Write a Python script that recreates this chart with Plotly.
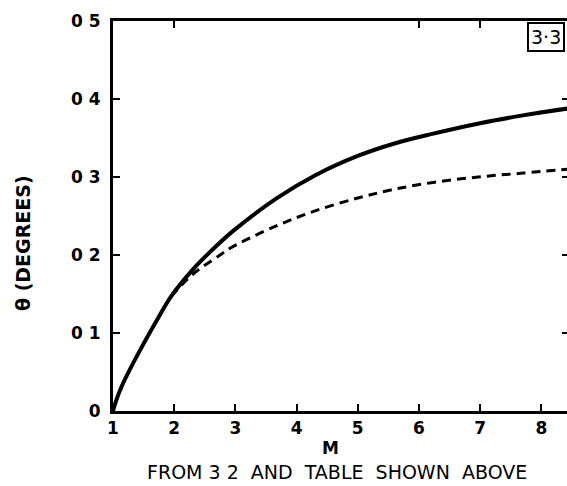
import plotly.graph_objects as go

# Theta vs M, two curves
m_solid = [1.0, 1.05, 1.15, 1.3, 1.45, 1.7, 1.95, 2.3, 2.6, 2.95, 3.66, 4.3, 5.0, 5.6, 6.2, 7.0, 7.7, 8.45]
theta_solid = [0.0, 0.013, 0.033, 0.057, 0.079, 0.114, 0.147, 0.181, 0.205, 0.230, 0.272, 0.302, 0.327, 0.343, 0.355, 0.369, 0.379, 0.388]

m_dashed = [1.95, 2.3, 2.75, 2.92, 3.63, 4.28, 5.0, 5.58, 6.23, 6.97, 7.7, 8.45]
theta_dashed = [0.147, 0.175, 0.200, 0.209, 0.236, 0.256, 0.273, 0.284, 0.293, 0.300, 0.305, 0.310]

x_ticks = [1, 2, 3, 4, 5, 6, 7, 8]
x_ticktext = ["1", "2", "3", "4", "5", "6", "7", "8"]
y_ticks = [0, 0.1, 0.2, 0.3, 0.4, 0.5]
y_ticktext = ["0", "0 1", "0 2", "0 3", "0 4", "0 5"]
top_ticks = [2, 6, 7]
right_ticks = [0.1, 0.2, 0.3, 0.4]

FONT = "DejaVu Sans"
X_RANGE = [1, 8.42]
Y_RANGE = [0, 0.5]

fig = go.Figure()
fig.add_trace(go.Scatter(x=m_solid, y=theta_solid, mode="lines",
                         line=dict(color="black", width=4, shape="spline", smoothing=1.0),
                         hoverinfo="skip", showlegend=False))
fig.add_trace(go.Scatter(x=m_dashed, y=theta_dashed, mode="lines",
                         line=dict(color="black", width=3, dash="9px,6px", shape="spline", smoothing=1.0),
                         hoverinfo="skip", showlegend=False))
# invisible trace to anchor the top/right tick axes
fig.add_trace(go.Scatter(x=[None], y=[None], xaxis="x2", yaxis="y2",
                         hoverinfo="skip", showlegend=False))

fig.update_layout(
    width=567, height=486,
    margin=dict(l=113, r=0, t=21, b=75),
    paper_bgcolor="white", plot_bgcolor="white",
    font=dict(family=FONT, color="black"),
    xaxis=dict(range=X_RANGE, showgrid=False, zeroline=False,
               showline=True, linecolor="black", linewidth=3, mirror=True,
               ticks="inside", ticklen=7, tickwidth=2, tickcolor="black",
               tickvals=x_ticks, ticktext=["<b>%s</b>" % t for t in x_ticktext],
               tickfont=dict(size=17, family=FONT)),
    yaxis=dict(range=Y_RANGE, showgrid=False, zeroline=False,
               showline=True, linecolor="black", linewidth=3,
               ticks="inside", ticklen=7, tickwidth=2, tickcolor="black",
               tickvals=y_ticks, ticktext=["<b>%s</b>" % t for t in y_ticktext],
               ticklabelstandoff=6, tickfont=dict(size=17, family=FONT)),
    xaxis2=dict(range=X_RANGE, overlaying="x", side="top", showgrid=False,
                zeroline=False, showline=False, ticks="inside", ticklen=7,
                tickwidth=2, tickcolor="black", tickvals=top_ticks,
                showticklabels=False),
    yaxis2=dict(range=Y_RANGE, overlaying="y", side="right", showgrid=False,
                zeroline=False, showline=False, ticks="inside", ticklen=5,
                tickwidth=2, tickcolor="black", tickvals=right_ticks,
                showticklabels=False),
    annotations=[
        dict(text="<b>M</b>", xref="paper", yref="paper", x=(330 - 113) / 454,
             y=-(448 - 411) / 390, xanchor="center", yanchor="middle",
             showarrow=False, font=dict(size=17, family=FONT)),
        dict(text="FROM 3 2  AND  TABLE  SHOWN  ABOVE", xref="paper", yref="paper",
             x=(337 - 113) / 454, y=-(472 - 411) / 390, xanchor="center",
             yanchor="middle", showarrow=False, font=dict(size=19, family=FONT)),
        dict(text="<b>θ (DEGREES)</b>", xref="paper", yref="paper",
             x=-(113 - 23) / 454, y=(411 - 243) / 390, xanchor="center",
             yanchor="middle", textangle=-90, showarrow=False,
             font=dict(size=19, family=FONT)),
        dict(text="3·3", xref="paper", yref="paper",
             x=(565 - 113) / 454, y=(411 - 22) / 390, xanchor="right",
             yanchor="top", showarrow=False, bordercolor="black",
             borderwidth=2, borderpad=2, bgcolor="white",
             font=dict(size=19, family=FONT)),
    ],
)

fig.write_html("out.html")
